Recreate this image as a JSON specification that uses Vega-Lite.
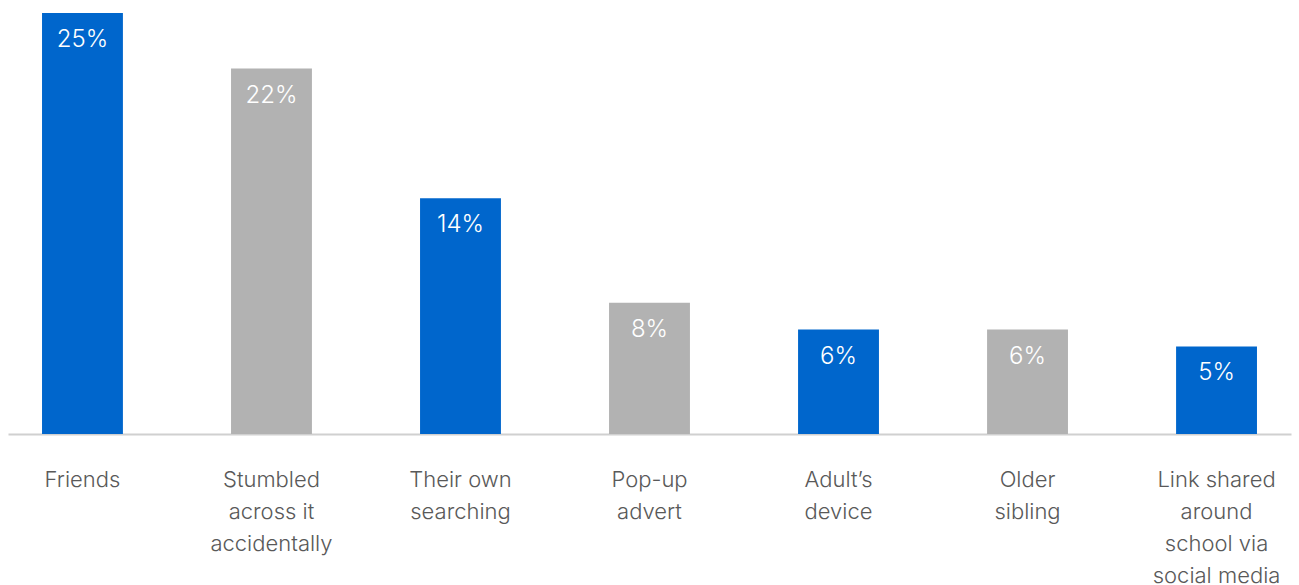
{
  "$schema": "https://vega.github.io/schema/vega-lite/v6.json",
  "autosize": "none",
  "width": 1283,
  "height": 421,
  "padding": {"left": 8, "top": 13, "right": 8, "bottom": 151},
  "background": "white",
  "config": {"view": {"stroke": null}, "font": "Inter"},
  "data": {
    "values": [
      {"source": "Friends", "share": 25, "label": "25%", "group": "blue"},
      {"source": "Stumbled across it accidentally", "share": 21.7, "label": "22%", "group": "grey"},
      {"source": "Their own searching", "share": 14, "label": "14%", "group": "blue"},
      {"source": "Pop-up advert", "share": 7.8, "label": "8%", "group": "grey"},
      {"source": "Adult’s device", "share": 6.2, "label": "6%", "group": "blue"},
      {"source": "Older sibling", "share": 6.2, "label": "6%", "group": "grey"},
      {"source": "Link shared around school via social media", "share": 5.2, "label": "5%", "group": "blue"}
    ]
  },
  "encoding": {
    "x": {
      "field": "source",
      "type": "nominal",
      "sort": null,
      "scale": {"paddingInner": 0.572, "paddingOuter": 0.18},
      "axis": {
        "title": null,
        "labelAngle": 0,
        "ticks": false,
        "domainColor": "#d0d0d0",
        "domainWidth": 2,
        "labelColor": "#595959",
        "labelFont": "Inter",
        "labelFontWeight": 300,
        "labelFontSize": 22,
        "labelLineHeight": 32,
        "labelPadding": 45,
        "labelBaseline": "middle",
        "labelLimit": 300,
        "labelExpr": "datum.value == 'Stumbled across it accidentally' ? ['Stumbled','across it','accidentally'] : datum.value == 'Their own searching' ? ['Their own','searching'] : datum.value == 'Pop-up advert' ? ['Pop-up','advert'] : datum.value == 'Adult’s device' ? ['Adult’s','device'] : datum.value == 'Older sibling' ? ['Older','sibling'] : datum.value == 'Link shared around school via social media' ? ['Link shared','around','school via','social media'] : datum.value"
      }
    },
    "y": {
      "field": "share",
      "type": "quantitative",
      "scale": {"domain": [0, 25], "nice": false},
      "axis": null
    }
  },
  "layer": [
    {
      "mark": {"type": "bar"},
      "encoding": {
        "color": {
          "field": "group",
          "type": "nominal",
          "scale": {"domain": ["blue", "grey"], "range": ["#0066cc", "#b2b2b2"]},
          "legend": null
        }
      }
    },
    {
      "mark": {"type": "text", "baseline": "middle", "dy": 27, "color": "#ffffff", "font": "Inter", "fontWeight": 300, "fontSize": 24},
      "encoding": {"text": {"field": "label"}}
    }
  ]
}
